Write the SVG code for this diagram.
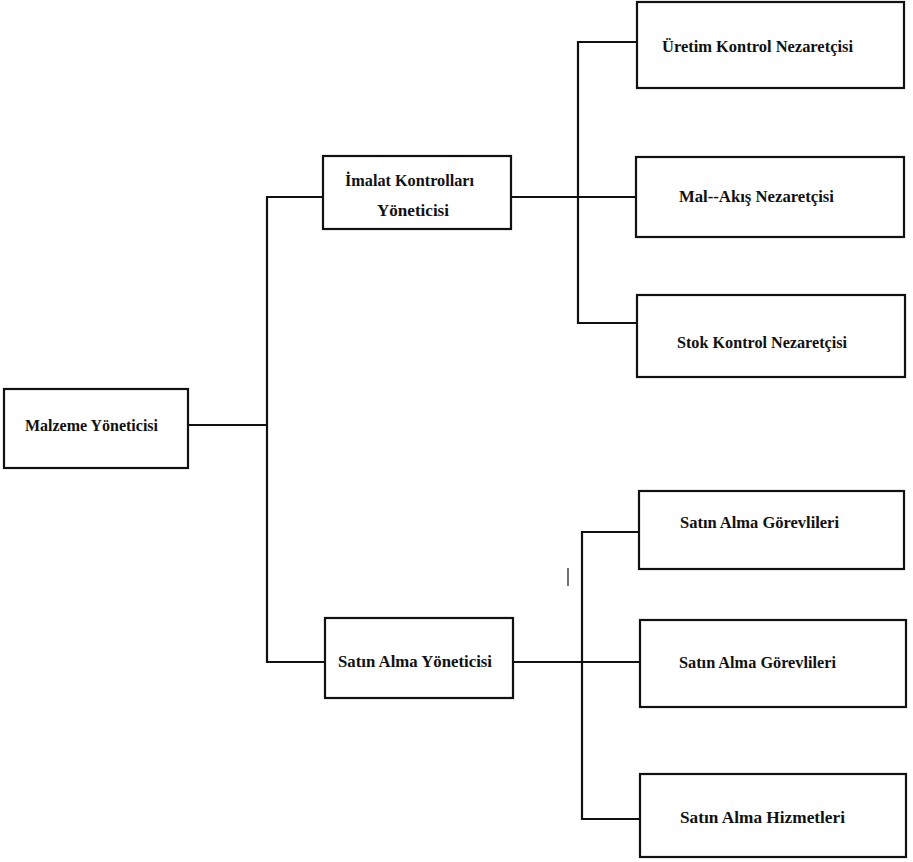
<svg xmlns="http://www.w3.org/2000/svg" width="913" height="862" viewBox="0 0 913 862">
<style>
.box{fill:#fff;stroke:#111;stroke-width:2.2}
.ln{stroke:#111;stroke-width:2.2;fill:none}
.t{font-family:"Liberation Serif","Times New Roman",serif;font-size:17px;font-weight:bold;fill:#111}
</style>
<rect width="913" height="862" fill="#fff"/>
<g id="connectors">
<polyline class="ln" points="188,425 267,425"/>
<polyline class="ln" points="323,197 267,197 267,662 325,662"/>
<polyline class="ln" points="511,197 637,197"/>
<polyline class="ln" points="637,42 578,42 578,323 637,323"/>
<polyline class="ln" points="513,662 640,662"/>
<polyline class="ln" points="640,532 582,532 582,819 640,819"/>
<line x1="568" y1="568" x2="568" y2="586" stroke="#111" stroke-width="1.2"/>
</g>
<g id="malzeme">
<rect class="box" x="4" y="389" width="184" height="79"/>
<text class="t" x="25" y="431" textLength="133" lengthAdjust="spacingAndGlyphs">Malzeme Yöneticisi</text>
</g>
<g id="imalat">
<rect class="box" x="323" y="156" width="188" height="73"/>
<text class="t" x="345" y="186" textLength="129" lengthAdjust="spacingAndGlyphs">İmalat Kontrolları</text>
<text class="t" x="377" y="216" textLength="72" lengthAdjust="spacingAndGlyphs">Yöneticisi</text>
</g>
<g id="uretim">
<rect class="box" x="637" y="2" width="267" height="86"/>
<text class="t" x="662" y="52" textLength="191" lengthAdjust="spacingAndGlyphs">Üretim Kontrol Nezaretçisi</text>
</g>
<g id="malakis">
<rect class="box" x="636" y="157" width="268" height="80"/>
<text class="t" x="679" y="202" textLength="155" lengthAdjust="spacingAndGlyphs">Mal--Akış Nezaretçisi</text>
</g>
<g id="stok">
<rect class="box" x="637" y="295" width="268" height="82"/>
<text class="t" x="677" y="348" textLength="170" lengthAdjust="spacingAndGlyphs">Stok Kontrol Nezaretçisi</text>
</g>
<g id="satinalma-yon">
<rect class="box" x="325" y="618" width="188" height="80"/>
<text class="t" x="338" y="667" textLength="154" lengthAdjust="spacingAndGlyphs">Satın Alma Yöneticisi</text>
</g>
<g id="gorevli1">
<rect class="box" x="639" y="491" width="265" height="78"/>
<text class="t" x="680" y="528" textLength="159" lengthAdjust="spacingAndGlyphs">Satın Alma Görevlileri</text>
</g>
<g id="gorevli2">
<rect class="box" x="640" y="620" width="266" height="87"/>
<text class="t" x="679" y="668" textLength="157" lengthAdjust="spacingAndGlyphs">Satın Alma Görevlileri</text>
</g>
<g id="hizmet">
<rect class="box" x="640" y="774" width="266" height="83"/>
<text class="t" x="680" y="823" textLength="165" lengthAdjust="spacingAndGlyphs">Satın Alma Hizmetleri</text>
</g>
</svg>
